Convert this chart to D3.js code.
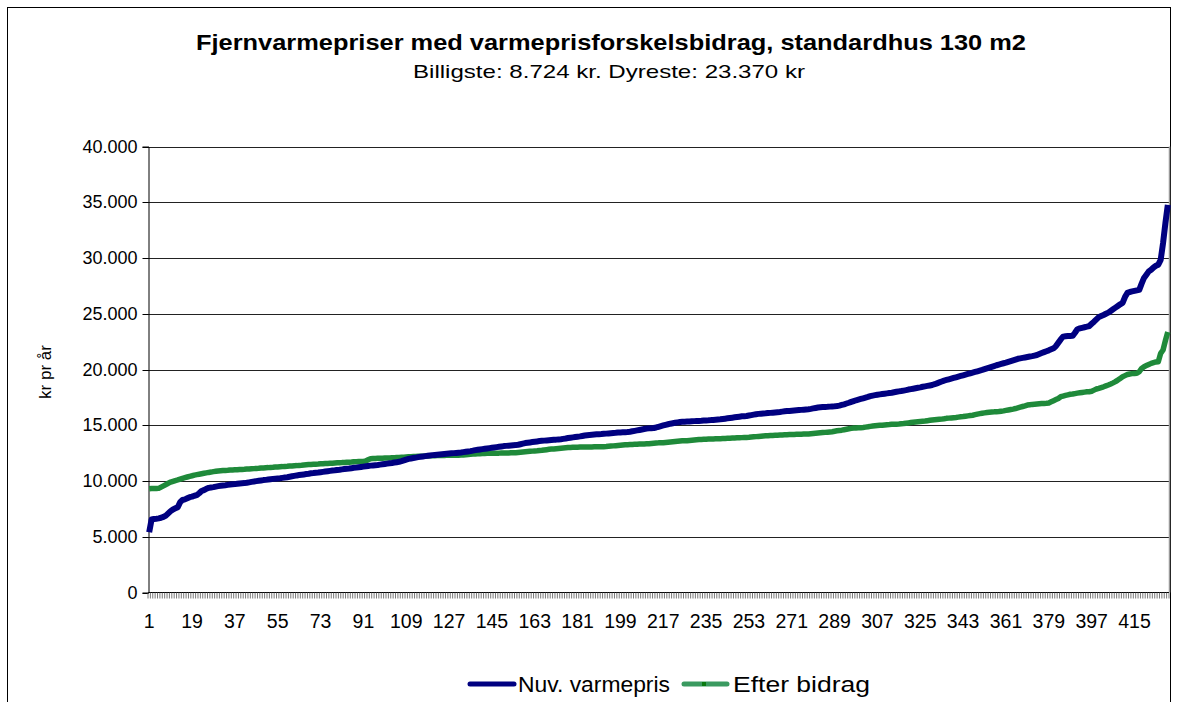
<!DOCTYPE html>
<html><head><meta charset="utf-8">
<script src="https://cdn.jsdelivr.net/npm/d3@7"></script>
<style>body{margin:0;background:#fff}svg{display:block}text{font-family:"Liberation Sans",Arial,sans-serif}</style>
</head><body><svg id="c" width="1177" height="702"></svg>
<script>
const titleText = "Fjernvarmepriser med varmeprisforskelsbidrag, standardhus 130 m2";
const subtitleText = "Billigste: 8.724 kr. Dyreste: 23.370 kr";
const yLabel = "kr pr år";
const seriesNames = ["Nuv. varmepris", "Efter bidrag"];
const yTicks = [0,5000,10000,15000,20000,25000,30000,35000,40000];
const xTickLabels = [1,19,37,55,73,91,109,127,145,163,181,199,217,235,253,271,289,307,325,343,361,379,397,415];
const nuv = [
5400,6550,6600,6620,6650,6700,6780,6900,7100,7300,
7450,7550,7650,8100,8300,8350,8450,8550,8600,8680,
8730,8900,9100,9180,9300,9380,9420,9450,9500,9540,
9570,9600,9620,9650,9680,9700,9720,9750,9780,9800,
9810,9840,9880,9920,9950,9990,10020,10050,10080,10100,
10130,10160,10190,10210,10230,10250,10280,10310,10340,10380,
10420,10460,10500,10530,10560,10590,10620,10650,10690,10710,
10740,10760,10790,10820,10850,10880,10910,10940,10960,10990,
11010,11040,11070,11100,11120,11150,11180,11200,11230,11260,
11290,11320,11350,11380,11400,11420,11440,11470,11500,11530,
11560,11590,11620,11660,11690,11720,11780,11850,11920,11980,
12020,12060,12100,12140,12170,12200,12230,12260,12290,12320,
12340,12360,12380,12400,12420,12440,12460,12480,12500,12520,
12540,12560,12590,12620,12650,12680,12720,12770,12800,12830,
12860,12890,12920,12950,12980,13010,13040,13070,13100,13130,
13150,13170,13190,13210,13220,13250,13300,13350,13400,13430,
13460,13490,13520,13550,13580,13600,13620,13640,13660,13680,
13700,13710,13730,13750,13780,13810,13850,13880,13910,13940,
13970,14000,14040,14080,14110,14130,14150,14170,14190,14200,
14210,14230,14250,14270,14290,14310,14320,14340,14360,14370,
14380,14390,14420,14460,14500,14540,14580,14620,14660,14700,
14720,14740,14750,14800,14860,14920,14980,15040,15090,15140,
15180,15220,15260,15290,15310,15320,15330,15340,15360,15370,
15380,15390,15400,15420,15430,15440,15460,15470,15490,15510,
15530,15560,15590,15620,15650,15680,15710,15740,15770,15800,
15810,15830,15870,15910,15950,15990,16020,16040,16060,16070,
16090,16110,16130,16150,16170,16190,16220,16250,16270,16280,
16300,16320,16340,16360,16380,16400,16420,16440,16470,16510,
16550,16590,16610,16630,16640,16650,16670,16690,16700,16720,
16760,16820,16880,16950,17020,17100,17170,17240,17300,17360,
17420,17480,17540,17610,17660,17700,17740,17770,17800,17830,
17860,17890,17920,17960,18000,18040,18070,18110,18150,18200,
18240,18280,18320,18360,18400,18450,18490,18530,18570,18610,
18680,18760,18840,18920,19000,19060,19120,19180,19240,19300,
19360,19420,19480,19540,19600,19660,19720,19780,19840,19900,
19960,20030,20100,20170,20240,20310,20380,20440,20500,20560,
20610,20680,20750,20820,20890,20960,21000,21040,21080,21120,
21160,21200,21250,21300,21390,21480,21560,21640,21720,21810,
21900,22100,22400,22700,22950,22980,23000,23010,23020,23300,
23610,23680,23740,23790,23840,23900,24100,24290,24500,24700,
24800,24890,25000,25100,25250,25400,25550,25700,25850,25970,
26500,26870,26950,27000,27050,27100,27140,27700,28210,28500,
28800,28950,29150,29300,29400,29830,31330,33150,34770];
const efter = [
9300,9320,9330,9330,9340,9450,9560,9680,9800,9900,
9970,10040,10100,10170,10240,10300,10360,10420,10470,10530,
10570,10610,10650,10690,10730,10770,10800,10840,10870,10900,
10920,10940,10950,10960,10980,10990,11000,11010,11030,11040,
11050,11070,11080,11100,11110,11130,11140,11160,11170,11190,
11200,11220,11230,11250,11260,11280,11290,11310,11320,11340,
11350,11370,11380,11400,11410,11430,11450,11470,11490,11500,
11510,11520,11540,11550,11570,11580,11590,11600,11620,11630,
11640,11650,11670,11680,11690,11700,11720,11730,11740,11750,
11760,11790,11900,12000,12010,12020,12030,12040,12050,12060,
12060,12070,12080,12090,12100,12110,12120,12130,12150,12170,
12180,12190,12200,12210,12220,12230,12240,12250,12260,12270,
12270,12280,12280,12290,12290,12300,12300,12310,12310,12320,
12320,12330,12340,12360,12380,12400,12420,12430,12440,12450,
12460,12470,12480,12480,12490,12490,12500,12500,12510,12510,
12520,12520,12530,12530,12540,12560,12580,12600,12620,12640,
12660,12680,12700,12710,12730,12750,12780,12810,12840,12860,
12880,12900,12920,12940,12960,12980,13000,13010,13020,13030,
13030,13040,13040,13050,13050,13060,13060,13070,13070,13070,
13080,13080,13090,13110,13130,13150,13170,13190,13210,13230,
13250,13260,13270,13280,13290,13300,13310,13310,13320,13330,
13340,13360,13380,13400,13420,13430,13440,13460,13480,13500,
13520,13540,13560,13580,13600,13610,13620,13640,13660,13680,
13700,13720,13730,13740,13750,13760,13760,13770,13780,13790,
13800,13810,13820,13830,13840,13850,13860,13870,13880,13890,
13900,13910,13920,13940,13960,13980,14000,14020,14040,14050,
14060,14080,14090,14100,14110,14120,14130,14140,14150,14160,
14170,14180,14190,14200,14200,14210,14210,14220,14240,14260,
14280,14300,14320,14340,14360,14380,14400,14420,14460,14500,
14530,14560,14600,14640,14680,14720,14750,14760,14770,14780,
14800,14830,14860,14900,14930,14950,14970,14990,15010,15030,
15050,15060,15080,15090,15100,15110,15130,15150,15180,15210,
15240,15270,15300,15320,15340,15360,15380,15410,15440,15470,
15490,15510,15530,15550,15580,15620,15640,15660,15680,15700,
15730,15760,15780,15810,15840,15870,15900,15950,16000,16040,
16080,16110,16140,16160,16180,16200,16210,16230,16260,16290,
16330,16370,16410,16450,16500,16560,16620,16680,16740,16810,
16840,16870,16890,16910,16930,16950,16960,16970,17000,17100,
17200,17300,17400,17560,17620,17680,17730,17780,17800,17840,
17880,17910,17940,17970,18000,18010,18050,18150,18250,18310,
18380,18450,18530,18610,18700,18800,18910,19050,19200,19350,
19450,19550,19600,19630,19650,19660,19800,20100,20250,20350,
20450,20550,20620,20680,20700,21450,21750,22600,23370];
const categories = nuv.map((d,i)=>i+1);

const svg = d3.select("#c");
const L=148, R=1169, T=146.5, B=592.5;
const blue="#000080", green="#1f8a3a";

svg.append("rect").attr("x",7.5).attr("y",7.5).attr("width",1163).attr("height",720)
  .attr("fill","none").attr("stroke","#000").attr("stroke-width",1);

svg.append("text").attr("x",611).attr("y",50).attr("text-anchor","middle")
  .attr("font-size",22).attr("font-weight","bold")
  .attr("textLength",830).attr("lengthAdjust","spacingAndGlyphs").text(titleText);
svg.append("text").attr("x",609).attr("y",78).attr("text-anchor","middle")
  .attr("font-size",19)
  .attr("textLength",392).attr("lengthAdjust","spacingAndGlyphs").text(subtitleText);

const x = d3.scaleBand().domain(categories).range([L,R]);
const y = d3.scaleLinear().domain([0,40000]).range([B,T]);

// gridlines
svg.append("g").selectAll("line").data(yTicks.filter(d=>d>0)).join("line")
  .attr("x1",L).attr("x2",R).attr("y1",d=>Math.round(y(d))+0.5).attr("y2",d=>Math.round(y(d))+0.5)
  .attr("stroke","#222").attr("stroke-width",1);
// plot right border
svg.append("line").attr("x1",R+0.5).attr("x2",R+0.5).attr("y1",T).attr("y2",B)
  .attr("stroke","#999").attr("stroke-width",1.5);

// y axis
const yAxis = d3.axisLeft(y).tickValues(yTicks).tickSize(6).tickPadding(5)
  .tickFormat(d=>d3.format(",")(d).replace(/,/g,"."));
const ya = svg.append("g").attr("transform",`translate(${L+0.5},0)`).call(yAxis);
ya.select(".domain").attr("stroke","#000");
ya.selectAll(".tick line").attr("stroke","#000");
ya.selectAll(".tick text").attr("font-size",18).attr("fill","#000")
  .attr("font-family","'Liberation Sans',Arial,sans-serif");
ya.selectAll(".tick").attr("transform",d=>`translate(0,${Math.round(y(d))+0.5})`);

// x axis line and minor ticks
svg.append("line").attr("x1",L).attr("x2",R).attr("y1",B).attr("y2",B).attr("stroke","#000");
svg.append("g").selectAll("line").data(categories.concat([categories.length+1])).join("line")
  .attr("x1",d=>L+(d-1)*x.step()).attr("x2",d=>L+(d-1)*x.step())
  .attr("y1",B).attr("y2",B+6).attr("stroke","#555").attr("stroke-width",0.8);
svg.append("g").selectAll("text").data(xTickLabels).join("text")
  .attr("x",d=>x(d)+x.bandwidth()/2).attr("y",628).attr("text-anchor","middle")
  .attr("font-size",19.5).text(d=>d);

svg.append("text").attr("transform","translate(51,372) rotate(-90)").attr("text-anchor","middle")
  .attr("font-size",17).text(yLabel);

const line = d3.line().x((d,i)=>x(i+1)+x.bandwidth()/2).y(d=>y(d));
svg.append("path").datum(efter).attr("d",line).attr("fill","none").attr("stroke",green)
  .attr("stroke-width",5.5).attr("stroke-linejoin","round");
svg.append("path").datum(nuv).attr("d",line).attr("fill","none").attr("stroke",blue)
  .attr("stroke-width",6).attr("stroke-linejoin","round");

// legend
const lg = svg.append("g");
lg.append("line").attr("x1",470).attr("x2",514).attr("y1",684).attr("y2",684).attr("stroke",blue)
  .attr("stroke-width",5).attr("stroke-linecap","round");
lg.append("text").attr("x",518).attr("y",692).attr("font-size",21.5)
  .attr("textLength",152).attr("lengthAdjust","spacingAndGlyphs").text(seriesNames[0]);
lg.append("line").attr("x1",684).attr("x2",727).attr("y1",684).attr("y2",684).attr("stroke","#3a9a60")
  .attr("stroke-width",5).attr("stroke-linecap","round");
lg.append("rect").attr("x",702).attr("y",682).attr("width",4).attr("height",4).attr("fill","#0a7a10");
lg.append("text").attr("x",733).attr("y",692).attr("font-size",21.5)
  .attr("textLength",137).attr("lengthAdjust","spacingAndGlyphs").text(seriesNames[1]);
</script></body></html>
